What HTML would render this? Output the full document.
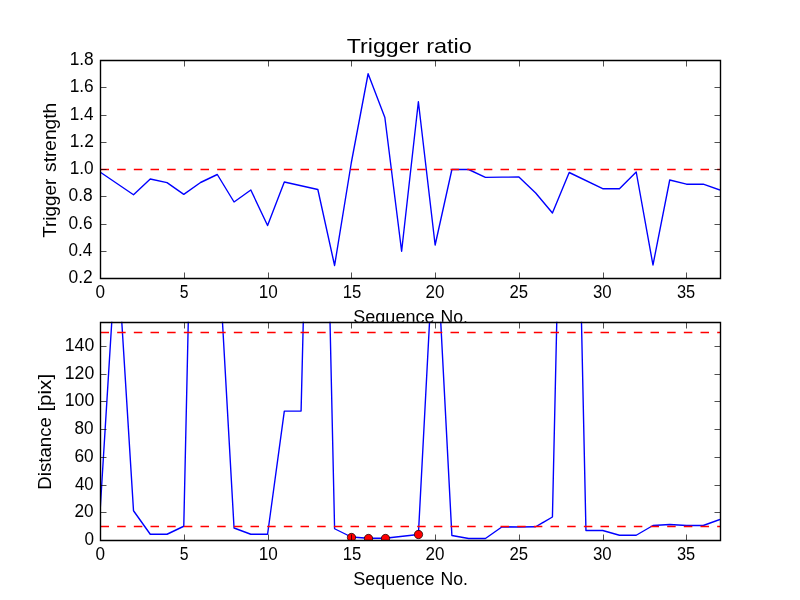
<!DOCTYPE html>
<html><head><meta charset="utf-8"><title>Trigger ratio</title>
<style>html,body{margin:0;padding:0;background:#fff;overflow:hidden}svg{display:block}text{font-family:"Liberation Sans",sans-serif;fill:#000}</style></head><body>
<svg width="800" height="600" viewBox="0 0 800 600">
<defs><clipPath id="c1"><rect x="100" y="60" width="620" height="218.18"/></clipPath><clipPath id="c2"><rect x="100" y="321.82" width="620" height="218.18"/></clipPath></defs>
<rect x="0" y="0" width="800" height="600" fill="#fff"/>
<rect x="100" y="60" width="620" height="218.18" fill="#fff"/>
<g clip-path="url(#c1)" fill="none">
<path d="M100.00,172.00 L133.51,194.75 L150.27,179.00 L167.03,182.60 L183.78,194.40 L200.54,182.50 L217.30,174.50 L234.05,202.00 L250.81,190.00 L267.57,225.50 L284.32,182.00 L317.84,189.50 L334.59,265.50 L351.35,162.50 L368.11,73.75 L384.86,117.50 L401.62,251.25 L418.38,101.75 L435.14,245.00 L451.89,169.50 L468.65,169.50 L485.41,177.40 L502.16,177.15 L518.92,177.00 L535.68,193.00 L552.43,213.00 L569.19,172.50 L602.70,188.70 L619.46,188.70 L636.22,172.00 L652.97,265.00 L669.73,180.00 L686.49,184.20 L703.24,184.20 L720.00,190.00" stroke="#00f" stroke-width="1.39" stroke-linejoin="round"/>
<path d="M100.5,169.50 H720" stroke="#f00" stroke-width="1.39" stroke-dasharray="8.5 8.167"/>
</g>
<path d="M100.5,60.5 H720.5 V278.5 H100.5 Z" stroke="#000" stroke-width="1.39" stroke-linejoin="miter" fill="none"/>
<path d="M100.5,278.5 v-6 M100.5,60.5 v6 M184.5,278.5 v-6 M184.5,60.5 v6 M268.5,278.5 v-6 M268.5,60.5 v6 M351.5,278.5 v-6 M351.5,60.5 v6 M435.5,278.5 v-6 M435.5,60.5 v6 M519.5,278.5 v-6 M519.5,60.5 v6 M603.5,278.5 v-6 M603.5,60.5 v6 M686.5,278.5 v-6 M686.5,60.5 v6 M100.5,278.5 h6 M720.5,278.5 h-6 M100.5,251.5 h6 M720.5,251.5 h-6 M100.5,224.5 h6 M720.5,224.5 h-6 M100.5,196.5 h6 M720.5,196.5 h-6 M100.5,169.5 h6 M720.5,169.5 h-6 M100.5,142.5 h6 M720.5,142.5 h-6 M100.5,115.5 h6 M720.5,115.5 h-6 M100.5,87.5 h6 M720.5,87.5 h-6 M100.5,60.5 h6 M720.5,60.5 h-6" stroke="#000" stroke-width="0.69" fill="none"/>
<g opacity="0.999">
<text x="346.78" y="53.00" font-size="20.7" textLength="72.53" lengthAdjust="spacingAndGlyphs">Trigger</text>
<text x="426.21" y="53.00" font-size="20.7" textLength="45.68" lengthAdjust="spacingAndGlyphs">ratio</text>
<text transform="translate(56.00 237.40) rotate(-90)" x="-0.42" y="0" font-size="18.7" textLength="59.12" lengthAdjust="spacingAndGlyphs">Trigger</text>
<text transform="translate(56.00 171.40) rotate(-90)" x="-0.53" y="0" font-size="18.7" textLength="69.14" lengthAdjust="spacingAndGlyphs">strength</text>
<text x="353.25" y="323.00" font-size="18.7" textLength="81.25" lengthAdjust="spacingAndGlyphs">Sequence</text>
<text x="440.44" y="323.00" font-size="18.7" textLength="27.47" lengthAdjust="spacingAndGlyphs">No.</text>
<text x="95.51" y="298.00" font-size="18.7" textLength="9.55" lengthAdjust="spacingAndGlyphs">0</text>
<text x="179.67" y="298.00" font-size="18.7" textLength="8.78" lengthAdjust="spacingAndGlyphs">5</text>
<text x="258.76" y="298.00" font-size="18.7" textLength="19.07" lengthAdjust="spacingAndGlyphs">10</text>
<text x="342.79" y="298.00" font-size="18.7" textLength="18.61" lengthAdjust="spacingAndGlyphs">15</text>
<text x="425.45" y="298.00" font-size="18.7" textLength="18.93" lengthAdjust="spacingAndGlyphs">20</text>
<text x="509.46" y="298.00" font-size="18.7" textLength="18.65" lengthAdjust="spacingAndGlyphs">25</text>
<text x="592.92" y="298.00" font-size="18.7" textLength="18.70" lengthAdjust="spacingAndGlyphs">30</text>
<text x="676.93" y="298.00" font-size="18.7" textLength="18.26" lengthAdjust="spacingAndGlyphs">35</text>
<text x="68.50" y="283.00" font-size="18.7" textLength="24.27" lengthAdjust="spacingAndGlyphs">0.2</text>
<text x="68.51" y="256.00" font-size="18.7" textLength="23.86" lengthAdjust="spacingAndGlyphs">0.4</text>
<text x="68.51" y="229.00" font-size="18.7" textLength="24.14" lengthAdjust="spacingAndGlyphs">0.6</text>
<text x="68.51" y="201.00" font-size="18.7" textLength="24.14" lengthAdjust="spacingAndGlyphs">0.8</text>
<text x="69.67" y="174.00" font-size="18.7" textLength="24.01" lengthAdjust="spacingAndGlyphs">1.0</text>
<text x="69.66" y="147.00" font-size="18.7" textLength="24.24" lengthAdjust="spacingAndGlyphs">1.2</text>
<text x="69.68" y="120.00" font-size="18.7" textLength="23.82" lengthAdjust="spacingAndGlyphs">1.4</text>
<text x="69.67" y="92.00" font-size="18.7" textLength="24.10" lengthAdjust="spacingAndGlyphs">1.6</text>
<text x="69.67" y="65.00" font-size="18.7" textLength="24.10" lengthAdjust="spacingAndGlyphs">1.8</text>
</g>
<rect x="100" y="321.82" width="620" height="218.18" fill="#fff"/>
<g clip-path="url(#c2)" fill="none">
<path d="M100.00,512.50 L116.76,241.00 L133.51,510.75 L150.27,534.25 L167.03,534.25 L183.78,526.25 L200.54,-237.70 M217.30,230.00 L234.05,528.00 L250.81,534.25 L267.57,534.25 L284.32,411.10 L301.08,411.10 L317.84,-269.00 M317.84,-229.00 L334.59,528.75 L351.35,537.00 L368.11,538.25 L384.86,538.25 L418.38,534.50 L435.14,215.00 L451.89,535.50 L468.65,538.50 L485.41,538.50 L502.16,526.75 L518.92,527.00 L535.68,526.75 L552.43,517.00 L569.19,-237.50 M569.19,-251.50 L585.95,530.50 L602.70,530.50 L619.46,535.25 L636.22,535.25 L652.97,525.50 L669.73,524.50 L686.49,525.50 L703.24,525.50 L720.00,519.50" stroke="#00f" stroke-width="1.39" stroke-linejoin="round"/>
<path d="M100.5,332.50 H720" stroke="#f00" stroke-width="1.39" stroke-dasharray="8.5 8.167"/>
<path d="M100.5,526.50 H720" stroke="#f00" stroke-width="1.39" stroke-dasharray="8.5 8.167"/>
<circle cx="351.50" cy="537.50" r="4.17" fill="#f00" stroke="#000" stroke-width="0.69"/>
<circle cx="368.50" cy="538.50" r="4.17" fill="#f00" stroke="#000" stroke-width="0.69"/>
<circle cx="385.50" cy="538.50" r="4.17" fill="#f00" stroke="#000" stroke-width="0.69"/>
<circle cx="418.50" cy="534.50" r="4.17" fill="#f00" stroke="#000" stroke-width="0.69"/>
</g>
<path d="M100.5,322.5 H720.5 V540.5 H100.5 Z" stroke="#000" stroke-width="1.39" stroke-linejoin="miter" fill="none"/>
<path d="M100.5,540.5 v-6 M100.5,322.5 v6 M184.5,540.5 v-6 M184.5,322.5 v6 M268.5,540.5 v-6 M268.5,322.5 v6 M351.5,540.5 v-6 M351.5,322.5 v6 M435.5,540.5 v-6 M435.5,322.5 v6 M519.5,540.5 v-6 M519.5,322.5 v6 M603.5,540.5 v-6 M603.5,322.5 v6 M686.5,540.5 v-6 M686.5,322.5 v6 M100.5,540.5 h6 M720.5,540.5 h-6 M100.5,512.5 h6 M720.5,512.5 h-6 M100.5,485.5 h6 M720.5,485.5 h-6 M100.5,457.5 h6 M720.5,457.5 h-6 M100.5,429.5 h6 M720.5,429.5 h-6 M100.5,401.5 h6 M720.5,401.5 h-6 M100.5,374.5 h6 M720.5,374.5 h-6 M100.5,346.5 h6 M720.5,346.5 h-6" stroke="#000" stroke-width="0.69" fill="none"/>
<g opacity="0.999">
<text transform="translate(51.20 488.10) rotate(-90)" x="-1.54" y="0" font-size="18.7" textLength="72.44" lengthAdjust="spacingAndGlyphs">Distance</text>
<text transform="translate(51.20 410.10) rotate(-90)" x="-1.49" y="0" font-size="18.7" textLength="37.69" lengthAdjust="spacingAndGlyphs">[pix]</text>
<text x="353.25" y="585.00" font-size="18.7" textLength="81.25" lengthAdjust="spacingAndGlyphs">Sequence</text>
<text x="440.44" y="585.00" font-size="18.7" textLength="27.47" lengthAdjust="spacingAndGlyphs">No.</text>
<text x="95.51" y="560.00" font-size="18.7" textLength="9.55" lengthAdjust="spacingAndGlyphs">0</text>
<text x="179.67" y="560.00" font-size="18.7" textLength="8.78" lengthAdjust="spacingAndGlyphs">5</text>
<text x="258.76" y="560.00" font-size="18.7" textLength="19.07" lengthAdjust="spacingAndGlyphs">10</text>
<text x="342.79" y="560.00" font-size="18.7" textLength="18.61" lengthAdjust="spacingAndGlyphs">15</text>
<text x="425.45" y="560.00" font-size="18.7" textLength="18.93" lengthAdjust="spacingAndGlyphs">20</text>
<text x="509.46" y="560.00" font-size="18.7" textLength="18.65" lengthAdjust="spacingAndGlyphs">25</text>
<text x="592.92" y="560.00" font-size="18.7" textLength="18.70" lengthAdjust="spacingAndGlyphs">30</text>
<text x="676.93" y="560.00" font-size="18.7" textLength="18.26" lengthAdjust="spacingAndGlyphs">35</text>
<text x="84.56" y="545.00" font-size="18.7" textLength="9.55" lengthAdjust="spacingAndGlyphs">0</text>
<text x="74.44" y="517.00" font-size="18.7" textLength="19.20" lengthAdjust="spacingAndGlyphs">20</text>
<text x="74.92" y="490.00" font-size="18.7" textLength="18.70" lengthAdjust="spacingAndGlyphs">40</text>
<text x="74.44" y="462.00" font-size="18.7" textLength="19.20" lengthAdjust="spacingAndGlyphs">60</text>
<text x="74.57" y="434.00" font-size="18.7" textLength="19.06" lengthAdjust="spacingAndGlyphs">80</text>
<text x="64.77" y="406.00" font-size="18.7" textLength="29.51" lengthAdjust="spacingAndGlyphs">100</text>
<text x="64.77" y="379.00" font-size="18.7" textLength="29.51" lengthAdjust="spacingAndGlyphs">120</text>
<text x="64.77" y="351.00" font-size="18.7" textLength="29.51" lengthAdjust="spacingAndGlyphs">140</text>
</g>
</svg></body></html>
